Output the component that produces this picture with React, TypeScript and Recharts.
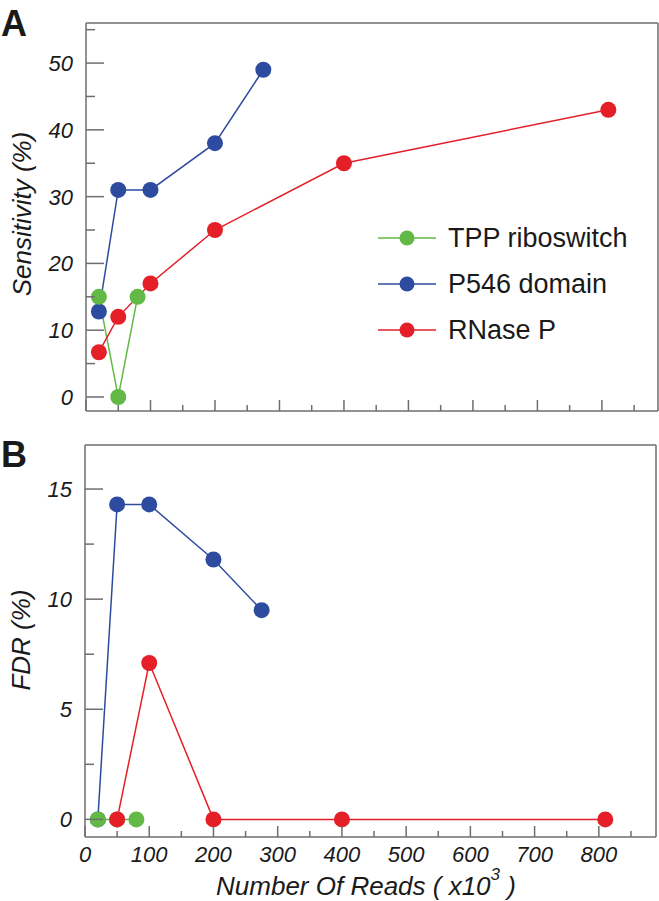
import React from "react";
import { LineChart, Line, XAxis, YAxis, Legend, ReferenceLine } from "recharts";

// reads (x10^3) per sample
const READS_TPP = [20, 50, 80];
const READS_P546 = [20, 50, 100, 200, 275];
const READS_RNASEP = [20, 50, 100, 200, 400, 810];

// panel A: sensitivity (%)
const SENS_TPP = [15, 0, 15];
const SENS_P546 = [12.8, 31, 31, 38, 49];
const SENS_RNASEP = [6.7, 12, 17, 25, 35, 43];

// panel B: FDR (%)
const FDR_TPP = [0, 0, 0];
const FDR_P546 = [0, 14.3, 14.3, 11.8, 9.5];
const FDR_RNASEP = [null, 0, 7.1, 0, 0, 0];

const X_TICKS = [0, 50, 100, 150, 200, 250, 300, 350, 400, 450, 500, 550, 600, 650, 700, 750, 800, 850];
const SENS_TICKS = [0, 5, 10, 15, 20, 25, 30, 35, 40, 45, 50, 55];
const FDR_TICKS = [0, 2.5, 5, 7.5, 10, 12.5, 15];

const SENS_X_DOMAIN = [0, 887];
const SENS_Y_DOMAIN = [-2.1, 56];
const FDR_X_DOMAIN = [0, 889];
const FDR_Y_DOMAIN = [-0.8, 17];

const SERIES = [
  { name: "TPP riboswitch", color: "#62b946" },
  { name: "P546 domain", color: "#2e4c9f" },
  { name: "RNase P", color: "#e41f28" },
];

const FONT = '"Liberation Sans", Arial, Helvetica, sans-serif';
const AXIS = "#6e6e6e";
const INK = "#1a1a1a";
const TICK_MARGIN = 10;

function zip(xs: number[], ys: (number | null)[]) {
  return xs.map((x, i) => ({ x, y: ys[i] }));
}

function isStep(v: number, step: number) {
  const r = v / step;
  return Math.abs(r - Math.round(r)) < 1e-6;
}

function makeYTick(majorStep: number) {
  return function YTick(props: any) {
    const { x, y, payload } = props;
    const v = payload.value as number;
    const ax = x + TICK_MARGIN;
    const major = isStep(v, majorStep);
    return (
      <g>
        <line x1={ax} x2={ax + (major ? 18 : 9)} y1={y} y2={y} stroke={AXIS} strokeWidth={1.5} />
        {major && (
          <text
            x={ax - 13}
            y={y}
            dy="0.36em"
            textAnchor="end"
            fontFamily={FONT}
            fontStyle="italic"
            fontSize={22}
            fill={INK}
          >
            {v}
          </text>
        )}
      </g>
    );
  };
}

function makeXTick(showLabels: boolean) {
  return function XTick(props: any) {
    const { x, y, payload } = props;
    const v = payload.value as number;
    const ay = y - TICK_MARGIN;
    const major = isStep(v, 100);
    return (
      <g>
        <line x1={x} x2={x} y1={ay} y2={ay - (major ? 11 : 6)} stroke={AXIS} strokeWidth={1.5} />
        {showLabels && major && (
          <text
            x={x}
            y={ay + 25}
            textAnchor="middle"
            fontFamily={FONT}
            fontStyle="italic"
            fontSize={22}
            fill={INK}
          >
            {v}
          </text>
        )}
      </g>
    );
  };
}

function LegendBox() {
  return (
    <div style={{ display: "flex", flexDirection: "column", fontFamily: FONT }}>
      {SERIES.map((s) => (
        <div key={s.name} style={{ display: "flex", alignItems: "center", height: 46 }}>
          <svg width={70} height={46}>
            <line x1={0} x2={58} y1={23} y2={23} stroke={s.color} strokeWidth={1.5} />
            <circle cx={29} cy={23} r={7.5} fill={s.color} />
          </svg>
          <span style={{ fontSize: 27, color: INK, whiteSpace: "nowrap" }}>{s.name}</span>
        </div>
      ))}
    </div>
  );
}

function series(xs: number[], ys: (number | null)[], color: string, key: string) {
  return (
    <Line
      key={key}
      data={zip(xs, ys)}
      dataKey="y"
      type="linear"
      stroke={color}
      strokeWidth={1.5}
      dot={{ r: 8, fill: color, stroke: color, strokeWidth: 0 }}
      activeDot={false}
      isAnimationActive={false}
      connectNulls={false}
    />
  );
}

// top and right edges of the box
function frame(xDomain: number[], yDomain: number[]) {
  return [
    <ReferenceLine key="top" y={yDomain[1]} stroke={AXIS} strokeWidth={1.5} />,
    <ReferenceLine key="right" x={xDomain[1]} stroke={AXIS} strokeWidth={1.5} />,
  ];
}

function SensitivityChart() {
  return (
    <LineChart width={659} height={420} margin={{ top: 23, right: 1, bottom: 8, left: 0 }}>
      <XAxis
        dataKey="x"
        type="number"
        domain={SENS_X_DOMAIN}
        allowDataOverflow
        ticks={X_TICKS}
        interval={0}
        height={1}
        tickSize={0}
        tickMargin={TICK_MARGIN}
        tick={makeXTick(false)}
        tickLine={false}
        axisLine={{ stroke: AXIS, strokeWidth: 1.5 }}
      />
      <YAxis
        type="number"
        domain={SENS_Y_DOMAIN}
        allowDataOverflow
        ticks={SENS_TICKS}
        interval={0}
        width={86}
        tickSize={0}
        tickMargin={TICK_MARGIN}
        tick={makeYTick(10)}
        tickLine={false}
        axisLine={{ stroke: AXIS, strokeWidth: 1.5 }}
      />
      {frame(SENS_X_DOMAIN, SENS_Y_DOMAIN)}
      {series(READS_P546, SENS_P546, SERIES[1].color, "p546")}
      {series(READS_TPP, SENS_TPP, SERIES[0].color, "tpp")}
      {series(READS_RNASEP, SENS_RNASEP, SERIES[2].color, "rnasep")}
      <Legend
        layout="vertical"
        align="center"
        verticalAlign="middle"
        content={() => <LegendBox />}
        wrapperStyle={{ left: 378, top: 215, width: 280, height: 138 }}
      />
    </LineChart>
  );
}

function FdrChart() {
  return (
    <LineChart width={659} height={471} margin={{ top: 15, right: 3, bottom: 63, left: 0 }}>
      <XAxis
        dataKey="x"
        type="number"
        domain={FDR_X_DOMAIN}
        allowDataOverflow
        ticks={X_TICKS}
        interval={0}
        height={1}
        tickSize={0}
        tickMargin={TICK_MARGIN}
        tick={makeXTick(true)}
        tickLine={false}
        axisLine={{ stroke: AXIS, strokeWidth: 1.5 }}
      />
      <YAxis
        type="number"
        domain={FDR_Y_DOMAIN}
        allowDataOverflow
        ticks={FDR_TICKS}
        interval={0}
        width={85}
        tickSize={0}
        tickMargin={TICK_MARGIN}
        tick={makeYTick(5)}
        tickLine={false}
        axisLine={{ stroke: AXIS, strokeWidth: 1.5 }}
      />
      {frame(FDR_X_DOMAIN, FDR_Y_DOMAIN)}
      {series(READS_P546, FDR_P546, SERIES[1].color, "p546")}
      {series(READS_TPP, FDR_TPP, SERIES[0].color, "tpp")}
      {series(READS_RNASEP, FDR_RNASEP, SERIES[2].color, "rnasep")}
    </LineChart>
  );
}

export default function App() {
  return (
    <div style={{ position: "absolute", left: 0, top: 0, width: 659, height: 901, background: "#fff" }}>
      <div style={{ position: "absolute", left: 0, top: 0 }}>
        <SensitivityChart />
      </div>
      <div style={{ position: "absolute", left: 0, top: 430 }}>
        <FdrChart />
      </div>
      <svg
        width={659}
        height={901}
        style={{ position: "absolute", left: 0, top: 0, pointerEvents: "none" }}
        fontFamily={FONT}
        fill={INK}
      >
        <text x={1} y={36} fontSize={36} fontWeight="bold">A</text>
        <text x={1} y={467} fontSize={36} fontWeight="bold">B</text>
        <text
          transform="translate(31 214) rotate(-90)"
          textAnchor="middle"
          fontSize={26}
          fontStyle="italic"
        >
          Sensitivity (%)
        </text>
        <text
          transform="translate(30 640) rotate(-90)"
          textAnchor="middle"
          fontSize={26}
          fontStyle="italic"
        >
          FDR (%)
        </text>
        <text x={366} y={895} textAnchor="middle" fontSize={26} fontStyle="italic">
          Number Of Reads ( x10
          <tspan fontSize={17} dy={-15}>3</tspan>
          <tspan dy={15}> )</tspan>
        </text>
      </svg>
    </div>
  );
}
